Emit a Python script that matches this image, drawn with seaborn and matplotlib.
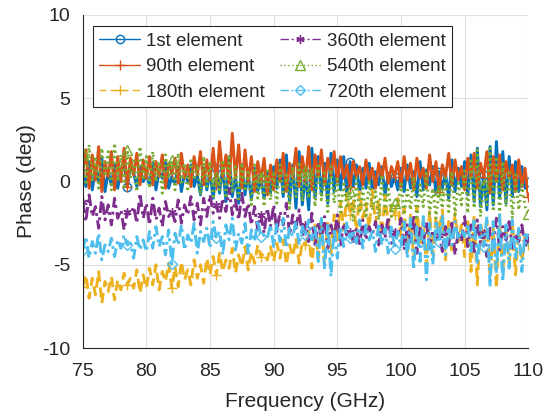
import numpy as np
import pandas as pd
import matplotlib
matplotlib.use("Agg")
import matplotlib.pyplot as plt
import seaborn as sns

# Frequency grid (GHz)
freq = np.arange(75.0, 110.0001, 0.25)

names = ["1st element", "90th element", "180th element",
         "360th element", "540th element", "720th element"]

el_1st = [
    0.5, -0.3, 1.2, -0.5, 0.8, 0.0, 1.4, -0.6, 0.6, -0.2, 1.0, -0.4, 0.7, 1.1, -0.3, 0.9, 0.5, -0.3, 0.9, 0.0,
    0.4, -0.2, 1.1, -0.5, 0.6, 0.2, 1.2, -0.4, 0.3, -0.1, 0.9, -0.6, 0.5, 0.0, 1.0, -0.3, 0.4, -0.8, 0.8, -0.5,
    0.6, -1.0, 0.8, -0.7, 0.9, -1.2, 1.5, -0.9, 0.3, -1.3, 1.0, -0.8, 0.5, -1.1, 0.8, -0.6, 0.2, -1.0, 0.6, -0.7,
    0.9, -0.4, 1.3, -0.9, 1.6, -1.2, 1.0, -1.6, 1.8, -1.4, 0.5, -1.7, 2.0, -1.0, 1.5, -0.8, 1.1, -1.3, 1.7, -0.6,
    1.3, -0.5, 1.5, -0.9, 1.2, -0.3, 1.0, -0.7, 0.8, -0.4, 1.1, -0.6, 0.6, -0.2, 0.9, -0.8, 0.5, -0.3, 0.3, -0.5,
    0.8, -0.6, 1.0, -0.4, 0.6, -0.9, 1.2, -0.5, 0.7, -0.2, 0.9, -0.7, 0.6, -0.4, 0.5, -1.0, 1.3, -0.6, 0.8, -0.3,
    1.2, -0.8, 1.6, -1.2, 2.0, -1.5, 0.4, -1.7, 2.1, -1.4, 2.4, -1.0, 1.8, -1.3, 1.5, -0.9, 1.2, -0.6, 0.9, -0.4,
    0.0]

el_90th = [
    0.5, 1.9, -0.4, 1.6, 0.1, 2.1, -0.6, 1.2, 0.3, 1.8, -0.5, 1.5, 0.0, 2.0, -0.3, 1.4, 0.4, 1.7, -0.2, 1.3,
    0.2, 1.5, -0.2, 1.2, 0.3, 1.6, -0.4, 1.1, 0.5, 1.4, -0.1, 1.7, 0.2, 1.0, -0.3, 1.5, 0.4, 1.8, -0.2, 1.3,
    0.1, 2.0, -0.2, 2.4, 0.3, 1.6, -0.1, 2.9, 0.2, 2.2, -0.4, 1.9, 0.0, 1.5, -0.6, 1.2, 0.1, 1.4, -0.8, 1.0,
    -0.5, 1.3, 0.0, 1.7, -0.6, 1.1, 0.2, 2.0, -0.3, 1.5, 0.1, 2.1, -0.5, 1.6, 0.3, 1.9, -0.2, 1.4, 0.4, 1.8,
    0.0, 1.5, 0.2, 1.0, -0.3, 1.2, 0.3, 0.9, -0.2, 1.3, 0.1, 0.8, -0.4, 1.1, 0.2, 1.4, -0.1, 0.9, 0.3, 1.2,
    -0.3, 1.5, 0.1, 1.1, -0.5, 1.4, 0.2, 0.8, -0.4, 1.6, 0.0, 1.2, -0.6, 1.0, 0.3, 1.7, -0.2, 1.3, 0.1, 0.9,
    -0.5, 1.4, 0.2, 1.7, -0.4, 1.1, 0.3, 1.8, -0.7, 1.5, 0.0, 1.6, -0.5, 1.2, 0.2, 1.0, -0.6, 1.3, -0.3, 0.8,
    -0.9]

el_180th = [
    -6.3, -5.6, -7.0, -5.8, -6.8, -5.4, -7.3, -6.0, -6.6, -5.7, -7.1, -5.9, -6.5, -5.5, -6.2, -5.8, -6.4, -5.3, -6.7, -5.6,
    -6.4, -5.2, -6.2, -5.0, -6.5, -5.4, -6.0, -4.9, -6.4, -5.1, -6.3, -4.8, -5.9, -5.3, -6.2, -4.7, -5.8, -5.0, -6.1, -4.6,
    -5.6, -4.5, -5.6, -4.3, -5.4, -4.7, -5.2, -4.0, -5.5, -4.4, -5.1, -3.9, -5.3, -4.2, -4.9, -3.8, -4.5, -4.3, -4.7, -3.9,
    -4.8, -3.7, -4.6, -3.5, -5.0, -3.8, -4.5, -3.4, -4.9, -3.6, -3.8, -3.0, -5.2, -2.6, -4.6, -2.2, -5.0, -2.5, -4.3, -2.0,
    -3.5, -1.2, -2.9, -0.7, -2.0, -1.0, -3.0, -0.6, -2.2, -1.3, -2.8, -0.5, -2.5, -1.1, -3.2, -0.8, -2.6, -1.4, -2.0, -1.0,
    -3.3, -1.6, -4.2, -2.0, -4.6, -1.5, -3.9, -2.3, -5.0, -1.8, -4.4, -2.1, -3.0, -1.7, -4.7, -2.4, -4.1, -1.9, -3.6, -2.6,
    -4.5, -2.2, -5.4, -2.0, -6.2, -2.5, -3.5, -2.3, -5.8, -2.8, -6.4, -2.1, -5.5, -2.6, -4.9, -2.4, -5.6, -2.9, -4.8, -3.2,
    -3.8]

el_360th = [
    -1.2, -2.4, -0.8, -2.1, -1.5, -2.8, -0.9, -2.3, -1.4, -2.6, -1.0, -2.2, -1.7, -2.9, -1.8, -2.0, -1.5, -2.5, -0.7, -2.2,
    -1.3, -2.6, -1.0, -2.3, -1.6, -2.7, -1.2, -2.1, -1.8, -2.4, -1.1, -2.5, -1.4, -2.0, -0.9, -2.3, -1.3, -2.6, -1.0, -2.1,
    -0.8, -1.9, -1.4, -2.2, -1.0, -1.8, -0.4, -2.0, -1.1, -2.3, -0.7, -2.1, -1.3, -2.6, -1.5, -2.9, -2.0, -3.1, -1.6, -2.7,
    -1.4, -3.0, -1.8, -2.6, -1.3, -3.2, -2.0, -2.8, -1.7, -3.3, -2.6, -3.6, -1.9, -3.9, -2.4, -3.5, -2.1, -4.0, -2.6, -3.4,
    -2.0, -3.8, -2.5, -3.3, -3.0, -3.6, -2.8, -3.9, -2.3, -3.5, -2.7, -3.2, -2.4, -3.8, -2.6, -3.4, -2.1, -3.7, -3.0, -3.3,
    -2.2, -4.1, -2.6, -3.6, -2.0, -4.3, -2.8, -3.7, -2.4, -4.0, -2.9, -3.5, -3.2, -4.2, -2.7, -3.8, -2.5, -4.4, -3.0, -3.6,
    -2.1, -3.9, -2.6, -4.2, -2.3, -3.7, -3.1, -4.5, -2.8, -3.8, -2.2, -4.1, -2.7, -3.5, -2.4, -4.0, -3.1, -3.6, -2.6, -3.9,
    -3.4]

el_540th = [
    1.7, -0.2, 2.2, 0.1, 1.5, -0.4, 2.0, 0.3, 1.8, -0.5, 2.3, 0.0, 1.6, -0.3, 1.9, 0.2, 1.4, -0.6, 2.1, 0.1,
    1.5, -0.4, 1.8, 0.0, 1.2, -0.7, 1.6, 0.2, 1.3, -0.5, 1.7, -0.2, 1.1, -0.6, 1.4, 0.1, 1.0, -0.8, 1.5, -0.3,
    1.2, -0.9, 0.3, -0.5, 1.3, -1.0, 1.6, -0.7, 0.9, -1.2, 1.1, -0.6, 0.7, -1.4, 1.0, -1.0, 0.3, -1.5, 0.8, -1.1,
    0.6, -1.3, 1.0, -0.8, 0.4, -1.6, 0.9, -0.9, 1.2, -1.2, 0.65, -1.0, 0.8, -1.5, 1.1, -1.1, 0.5, -1.8, 0.9, -1.3,
    0.3, -2.0, 0.0, -1.6, -0.55, -2.4, 0.2, -1.9, -0.4, -2.2, 0.1, -1.7, -0.6, -2.3, 0.4, -1.8, -0.3, -2.1, -1.3, -1.6,
    0.0, -2.0, -0.5, -1.7, 0.3, -2.3, -0.2, -1.5, 0.5, -1.9, -0.4, -2.2, -0.5, -1.6, 0.2, -1.8, 0.6, -2.0, -0.1, -1.4,
    0.8, -1.9, 1.4, -1.6, 1.9, -2.1, -0.15, -1.4, 2.0, -1.8, 1.5, -2.0, 1.2, -1.5, 0.7, -2.2, 0.4, -1.7, -0.2, -1.5,
    -1.95]

el_720th = [
    -4.1, -3.3, -4.6, -3.6, -4.3, -3.1, -4.7, -3.8, -4.2, -3.4, -4.5, -3.5, -4.0, -3.2, -3.8, -3.7, -4.6, -3.3, -4.1, -3.5,
    -4.2, -3.0, -4.0, -2.7, -3.9, -3.3, -4.4, -2.9, -4.95, -3.1, -3.8, -2.6, -4.1, -3.2, -3.7, -2.5, -4.3, -3.0, -3.6, -2.8,
    -4.0, -2.4, -3.4, -3.0, -4.4, -2.6, -3.5, -2.2, -4.1, -3.1, -3.7, -2.5, -4.3, -2.9, -3.6, -2.3, -3.3, -3.2, -3.4, -2.6,
    -3.9, -2.5, -3.6, -2.2, -4.0, -2.8, -3.3, -2.4, -3.8, -2.7, -3.2, -2.3, -3.5, -2.6, -4.8, -2.2, -5.3, -2.5, -5.7, -2.8,
    -4.6, -2.7, -3.9, -2.4, -3.4, -2.9, -3.7, -2.3, -4.0, -2.6, -3.5, -3.0, -4.2, -2.5, -3.8, -2.8, -4.3, -2.6, -4.05, -3.0,
    -3.9, -2.4, -4.6, -2.2, -5.3, -2.6, -4.8, -2.1, -5.9, -2.5, -5.0, -2.3, -3.6, -2.0, -4.4, -2.7, -3.8, -2.4, -3.5, -2.9,
    -3.3, -2.5, -4.2, -2.2, -5.0, -2.6, -3.9, -2.1, -6.3, -2.4, -5.5, -2.0, -6.0, -2.6, -5.2, -2.3, -4.7, -2.8, -5.4, -3.0,
    -3.5]

series = [el_1st, el_90th, el_180th, el_360th, el_540th, el_720th]
colors = ["#0072BD", "#D95319", "#EDB120", "#7E2F8E", "#77AC30", "#4DBEEE"]
linestyles = ["-", "-", (0, (3.5, 2)), (0, (4, 1.5, 1, 1.5)), (0, (0.7, 1.2)), (0, (4, 1.5, 1, 1.5))]
markers = ["o", "+", "+", (6, 2, 0), "^", "D"]
msizes = [6, 7, 7, 6, 6.5, 5]
xticks = [75, 80, 85, 90, 95, 100, 105, 110]
yticks = [-10, -5, 0, 5, 10]

sns.set_style("white")
plt.rcParams["font.family"] = ["Liberation Sans", "DejaVu Sans"]
plt.rcParams["axes.unicode_minus"] = False

fig = plt.figure(figsize=(5.59, 4.15), dpi=100)
ax = fig.add_axes([0.148, 0.161, 0.797, 0.803])

for name, vals, c, ls, m, ms in zip(names, series, colors, linestyles, markers, msizes):
    df = pd.DataFrame({"Frequency": freq, "Phase": vals})
    sns.lineplot(data=df, x="Frequency", y="Phase", ax=ax, color=c,
                 linestyle=ls, linewidth=2.1, marker=m, markevery=14,
                 markersize=ms, markerfacecolor="none", markeredgecolor=c,
                 markeredgewidth=1.0, label=name, estimator=None, sort=False)

ax.set_xlim(75, 110)
ax.set_ylim(-10, 10)
ax.set_xticks(xticks)
ax.set_yticks(yticks)
ax.grid(True, color="#dfdfdf", linewidth=0.8)
ax.set_axisbelow(True)
for s in ["top", "right"]:
    ax.spines[s].set_visible(False)
for s in ["left", "bottom"]:
    ax.spines[s].set_color("#262626")
    ax.spines[s].set_linewidth(0.8)
ax.tick_params(direction="in", length=4, width=0.8, colors="#262626", labelsize=14)
ax.tick_params(axis="x", pad=11)
ax.tick_params(axis="y", pad=9)
ax.set_xlabel("Frequency (GHz)", fontsize=15, color="#262626", labelpad=8)
ax.set_ylabel("Phase (deg)", fontsize=15, color="#262626", labelpad=4)

leg = ax.legend(loc="upper left", bbox_to_anchor=(0.022, 0.967), ncol=2,
                fontsize=13.5, frameon=True, fancybox=False, framealpha=1,
                edgecolor="#262626", handlelength=2.2, handletextpad=0.3,
                columnspacing=0.8, labelspacing=0.45, borderpad=0.35,
                borderaxespad=0)
leg.get_frame().set_linewidth(0.8)
styles_legend = ["-", "-", (0, (5, 3)), (0, (6, 2, 1.5, 2)), (0, (1, 1.8)), (0, (6, 2, 1.5, 2))]
for h, st in zip(leg.get_lines(), styles_legend):
    h.set_linewidth(1.0)
    h.set_linestyle(st)

fig.savefig("out.png", dpi=100)
